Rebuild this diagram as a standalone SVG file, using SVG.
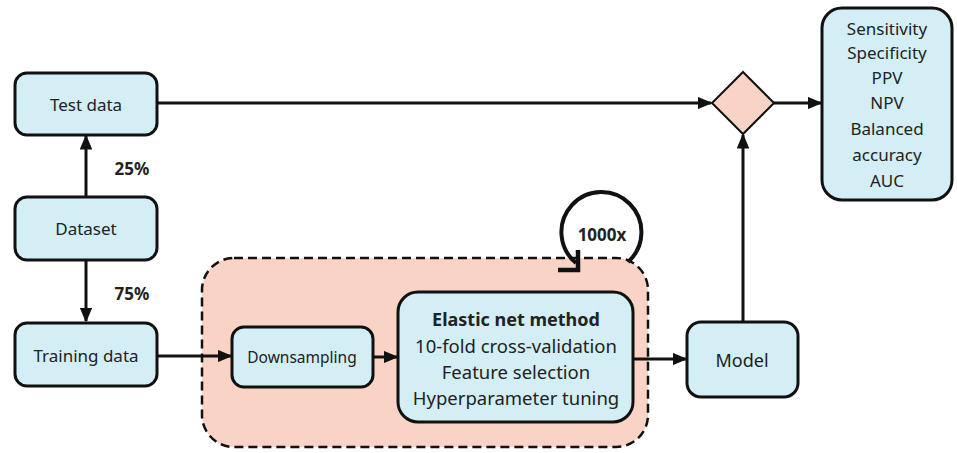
<svg xmlns="http://www.w3.org/2000/svg" width="957" height="453" viewBox="0 0 957 453">
<defs>
<style>
.box{fill:#d3eef4;stroke:#111;stroke-width:3}
.t{font-family:"Noto Sans","Open Sans",sans-serif;font-size:17px;fill:#222;text-anchor:middle;dominant-baseline:central}
.b{font-weight:bold}
.c{fill:none;stroke:#111;stroke-width:3}
</style>
<marker id="ah" viewBox="0 0 10 10" refX="9" refY="5" markerWidth="5" markerHeight="4.2" orient="auto" markerUnits="strokeWidth" preserveAspectRatio="none">
<path d="M0,0 L10,5 L0,10 Z" fill="#111"/>
</marker>
</defs>
<rect width="957" height="453" fill="#fff"/>
<g id="container">
<rect x="202" y="258" width="446" height="189" rx="32" fill="#f9d3c5" stroke="#111" stroke-width="2.5" stroke-dasharray="9,5"/>
</g>
<g id="connectors">
<line class="c" x1="86" y1="197" x2="86" y2="136" marker-end="url(#ah)"/>
<line class="c" x1="86" y1="260" x2="86" y2="321" marker-end="url(#ah)"/>
<line class="c" x1="157" y1="103" x2="711" y2="103" marker-end="url(#ah)"/>
<line class="c" x1="773" y1="103" x2="821" y2="103" marker-end="url(#ah)"/>
<line class="c" x1="743" y1="322" x2="743" y2="135" marker-end="url(#ah)"/>
<line class="c" x1="157" y1="356" x2="231" y2="356" marker-end="url(#ah)"/>
<line class="c" x1="373" y1="357" x2="397" y2="357" marker-end="url(#ah)"/>
<line class="c" x1="633" y1="359" x2="686" y2="359" marker-end="url(#ah)"/>
<path d="M628,262 A40,40 0 1 0 576,263" fill="none" stroke="#111" stroke-width="4"/>
<path d="M558,270 L578,270 L578,250" fill="none" stroke="#111" stroke-width="4.5"/>
<text class="t b" x="132" y="168">25%</text>
<text class="t b" x="132" y="293">75%</text>
<text class="t b" x="602" y="234">1000x</text>
</g>
<g id="test">
<rect class="box" x="15" y="73" width="142" height="62" rx="12"/>
<text class="t" x="86" y="104">Test data</text>
</g>
<g id="dataset">
<rect class="box" x="15" y="197" width="142" height="63" rx="12"/>
<text class="t" x="86" y="228">Dataset</text>
</g>
<g id="training">
<rect class="box" x="15" y="323" width="142" height="63" rx="12"/>
<text class="t" x="86" y="355">Training data</text>
</g>
<g id="downsampling">
<rect class="box" x="232" y="327" width="141" height="60" rx="12"/>
<text class="t" x="302" y="357" style="font-size:15.5px">Downsampling</text>
</g>
<g id="elastic">
<rect class="box" x="398" y="292" width="235" height="130" rx="20"/>
<text class="t b" x="516" y="319" style="font-size:18px">Elastic net method</text>
<text class="t" x="516" y="345" style="font-size:18.5px">10-fold cross-validation</text>
<text class="t" x="516" y="371" style="font-size:18.5px">Feature selection</text>
<text class="t" x="516" y="397" style="font-size:18.5px">Hyperparameter tuning</text>
</g>
<g id="model">
<rect class="box" x="687" y="322" width="111" height="75" rx="14"/>
<text class="t" x="742" y="360" style="font-size:18px">Model</text>
</g>
<g id="decision">
<polygon points="743,72 774,103 743,134 712,103" fill="#f9d3c5" stroke="#111" stroke-width="2"/>
</g>
<g id="metrics">
<rect class="box" x="822" y="8" width="130" height="192" rx="20"/>
<text class="t" x="887" y="28">Sensitivity</text>
<text class="t" x="887" y="52">Specificity</text>
<text class="t" x="887" y="77">PPV</text>
<text class="t" x="887" y="102">NPV</text>
<text class="t" x="887" y="128">Balanced</text>
<text class="t" x="887" y="154">accuracy</text>
<text class="t" x="887" y="180">AUC</text>
</g>
</svg>
